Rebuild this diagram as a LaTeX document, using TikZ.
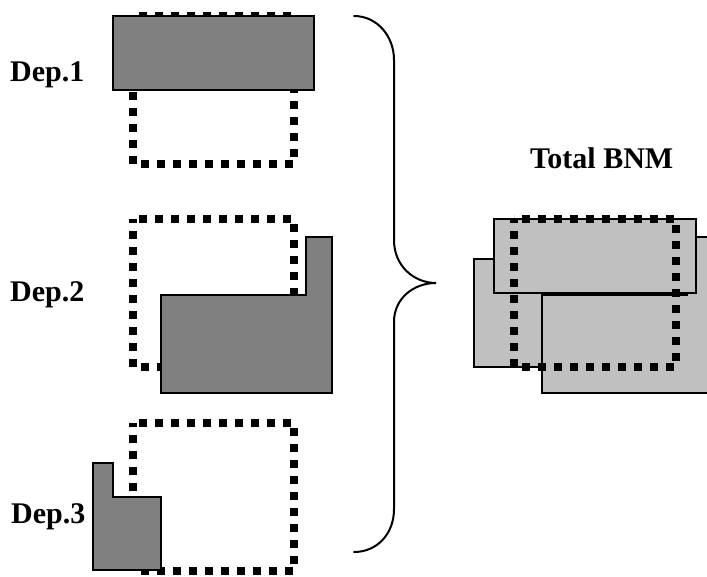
\documentclass[tikz,border=0pt]{standalone}
\usepackage{fontspec}
\setmainfont{Liberation Serif}
\definecolor{depgray}{HTML}{808080}
\definecolor{totgray}{HTML}{C0C0C0}
\begin{document}
\begin{tikzpicture}[x=1pt,y=-1pt,
  dots/.style={line width=8pt, dash pattern=on 8pt off 8pt, dash phase=4pt},
  depfill/.style={fill=depgray, draw=black, line width=1.2pt},
  totfill/.style={fill=totgray, draw=black, line width=1.2pt},
  lbl/.style={font=\fontsize{30}{36}\selectfont\bfseries, inner sep=0pt, anchor=base west},
  brace/.style={line width=2pt, line cap=round}]
\useasboundingbox (0,0) rectangle (707,576);
% Dep.1
\draw[dots] (133,16) rectangle (294,164);
\draw[depfill] (113,16) rectangle (314,90);
% Dep.2
\draw[dots] (133,219) rectangle (294,367);
\draw[depfill] (161,295) -- (306,295) -- (306,237) -- (332,237) -- (332,393) -- (161,393) -- cycle;
% Dep.3
\draw[dots] (133,423) rectangle (294,571);
\draw[depfill] (93,463) -- (113,463) -- (113,497) -- (161,497) -- (161,570) -- (93,570) -- cycle;
% Total
\draw[totfill] (474,259) -- (494,259) -- (494,293) -- (542,293) -- (542,367) -- (474,367) -- cycle;
\draw[totfill] (542,295) -- (687,295) -- (687,237) -- (713,237) -- (713,393) -- (542,393) -- cycle;
\draw[totfill] (494,219) rectangle (696,293);
\draw[dots] (514,219) rectangle (676,367);
% labels
\node[lbl] (dep1) at (10,81) {Dep.1};
\node[lbl] (dep2) at (10,301) {Dep.2};
\node[lbl] (dep3) at (11,523) {Dep.3};
\node[lbl] (total) at (530,168) {Total BNM};
% brace
\draw[brace] (354,16) .. controls (377,16) and (394,36) .. (394,60) -- (394,240)
  .. controls (394,266) and (414,283) .. (436,283)
  .. controls (414,283) and (394,298) .. (394,322) -- (394,509)
  .. controls (394,534) and (377,552) .. (354,552);
\end{tikzpicture}
\end{document}
